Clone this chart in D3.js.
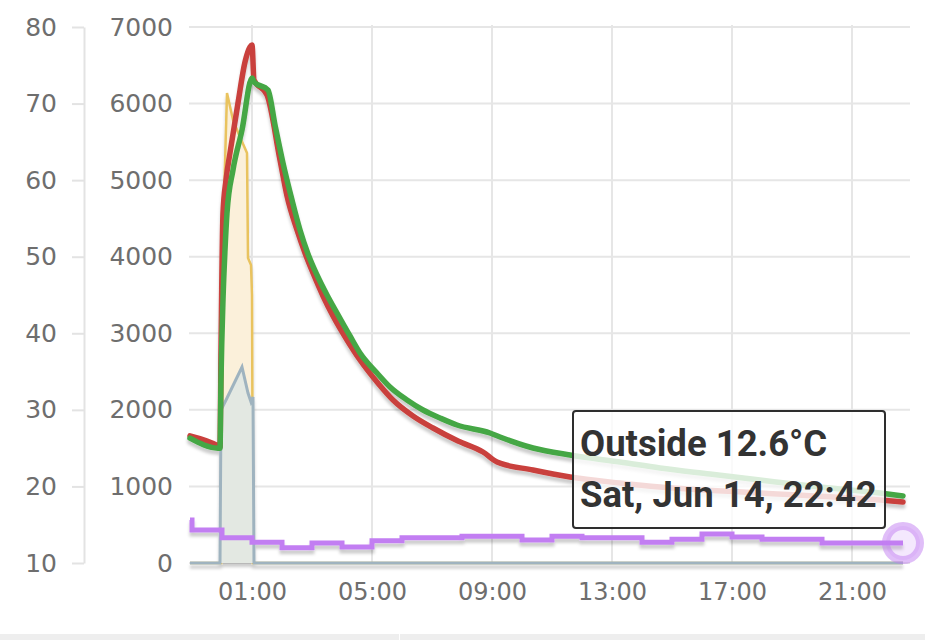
<!DOCTYPE html>
<html><head><meta charset="utf-8">
<script src="https://cdn.jsdelivr.net/npm/d3@7"></script>
<style>body{margin:0;background:#fff;overflow:hidden}</style>
</head><body><svg id="c" width="925" height="640"></svg>
<script>
// ---------- data ----------
const tempTicks = [10,20,30,40,50,60,70,80];
const valueTicks = [0,1000,2000,3000,4000,5000,6000,7000];
const xTickLabels = ["01:00","05:00","09:00","13:00","17:00","21:00"];

const redTimes = ["06-13 22:56","06-13 23:52","06-13 23:56","06-13 23:58","06-14 00:02","06-14 00:08","06-14 00:16","06-14 00:32","06-14 00:46","06-14 00:56","06-14 01:00","06-14 01:04","06-14 01:30","06-14 01:56","06-14 02:10","06-14 02:30","06-14 02:46","06-14 03:02","06-14 03:22","06-14 03:42","06-14 04:10","06-14 04:36","06-14 05:10","06-14 05:42","06-14 06:22","06-14 07:02","06-14 07:52","06-14 08:42","06-14 09:10","06-14 10:22","06-14 11:36","06-14 13:16","06-14 14:36","06-14 17:56","06-14 21:56","06-14 22:42"];
const redValues = [1660,1530,1515,2782,4571,5002,5355,6008,6543,6739,6765,6308,6112,5263,4793,4349,4049,3787,3487,3226,2912,2651,2364,2129,1920,1763,1593,1450,1319,1215,1123,1045,993,914,823,797];

const greenTimes = ["06-13 22:56","06-13 23:52","06-13 23:56","06-13 23:58","06-14 00:02","06-14 00:06","06-14 00:10","06-14 00:22","06-14 00:40","06-14 01:00","06-14 01:04","06-14 01:32","06-14 01:46","06-14 02:02","06-14 02:20","06-14 02:36","06-14 02:52","06-14 03:10","06-14 03:30","06-14 03:50","06-14 04:16","06-14 04:36","06-14 05:10","06-14 05:36","06-14 06:10","06-14 06:42","06-14 07:16","06-14 07:50","06-14 08:56","06-14 09:16","06-14 10:22","06-14 11:36","06-14 13:16","06-14 14:36","06-14 16:16","06-14 17:56","06-14 19:56","06-14 21:56","06-14 22:42"];
const greenValues = [1630,1500,1500,2390,3435,4088,4571,5133,5655,6334,6282,6177,5720,5224,4741,4349,4036,3761,3500,3265,2965,2743,2481,2299,2129,1998,1894,1802,1698,1646,1502,1410,1319,1241,1162,1084,993,914,875];

const yellowTimes = ["06-13 22:56","06-13 23:58","06-14 00:00","06-14 00:04","06-14 00:10","06-14 00:22","06-14 00:36","06-14 00:50","06-14 00:52","06-14 00:58","06-14 01:00","06-14 01:02","06-14 22:42"];
const yellowValues = [0,0,2129,4741,6138,5786,5564,5355,3983,3892,3500,0,0];

const blueTimes = ["06-13 22:56","06-13 23:56","06-13 23:58","06-14 00:10","06-14 00:40","06-14 00:52","06-14 00:58","06-14 01:02","06-14 01:04","06-14 22:42"];
const blueValues = [0,0,1998,2155,2560,2220,2103,2168,0,0];

const outsideTimes = ["06-13 22:56","06-13 23:00","06-14 00:00","06-14 01:00","06-14 02:00","06-14 03:00","06-14 04:00","06-14 05:00","06-14 06:00","06-14 08:00","06-14 10:00","06-14 11:00","06-14 12:00","06-14 14:00","06-14 15:00","06-14 16:00","06-14 17:00","06-14 18:00","06-14 20:00","06-14 22:42"];
const outsideValues = [15.6,14.3,13.3,12.7,12.0,12.6,12.1,12.9,13.3,13.5,13.0,13.5,13.3,12.7,13.1,13.8,13.4,13.1,12.6,12.6];

const tooltipLines = ["Outside 12.6°C","Sat, Jun 14, 22:42"];

// ---------- setup ----------
const parse = d3.timeParse("%Y-%m-%d %H:%M");
const P = s => parse("2025-" + s);
const zip = (t, v) => t.map((d, i) => ({t: P(d), v: v[i]}));

const svg = d3.select("#c");
const x = d3.scaleTime().domain([P("06-13 22:56"), P("06-14 22:56")]).range([190, 910]);
const yT = d3.scaleLinear().domain([10, 80]).range([563, 27]);
const yV = d3.scaleLinear().domain([0, 7000]).range([563, 27]);

const defs = svg.append("defs");
const f = defs.append("filter").attr("id","sh").attr("filterUnits","userSpaceOnUse")
  .attr("x",0).attr("y",0).attr("width",925).attr("height",640);
f.append("feDropShadow").attr("dx",0).attr("dy",4).attr("stdDeviation",1.6)
  .attr("flood-color","#000").attr("flood-opacity",0.2);

const font = "'DejaVu Sans', sans-serif";

// bottom page bar
svg.append("rect").attr("x",0).attr("y",634).attr("width",925).attr("height",6).attr("fill","#eeeeee");
svg.append("line").attr("x1",399.5).attr("x2",399.5).attr("y1",634).attr("y2",640).attr("stroke","#fff");

// gridlines
const grid = svg.append("g");
grid.selectAll("line.h").data(valueTicks).join("line")
  .attr("x1",189).attr("x2",910).attr("y1",d=>yV(d)).attr("y2",d=>yV(d))
  .attr("stroke","#e6e6e6").attr("stroke-width",2);
const xTickDates = xTickLabels.map(s => P("06-14 " + s));
grid.selectAll("line.v").data(xTickDates).join("line")
  .attr("x1",d=>x(d)).attr("x2",d=>x(d)).attr("y1",25).attr("y2",563)
  .attr("stroke","#e6e6e6").attr("stroke-width",2);

// left temperature axis
const gT = svg.append("g").attr("transform","translate(84,0)")
  .call(d3.axisLeft(yT).tickValues(tempTicks).tickSize(12).tickSizeOuter(0).tickPadding(15));
gT.select(".domain").attr("stroke","#e3e3e3").attr("stroke-width",2);
gT.selectAll(".tick line").attr("stroke","#e3e3e3").attr("stroke-width",2);
gT.selectAll("text").attr("font-family",font).attr("font-size",25).attr("fill","#6e6e6e");

// second value axis
const gV = svg.append("g").attr("transform","translate(190,0)")
  .call(d3.axisLeft(yV).tickValues(valueTicks).tickFormat(d3.format("d")).tickSize(0).tickPadding(17));
gV.select(".domain").remove();
gV.selectAll("text").attr("font-family",font).attr("font-size",25).attr("fill","#6e6e6e");

// x axis
const gX = svg.append("g").attr("transform","translate(0,563)")
  .call(d3.axisBottom(x).tickValues(xTickDates).tickFormat(d3.timeFormat("%H:%M")).tickSize(0).tickPadding(20));
gX.select(".domain").remove();
gX.selectAll("text").attr("font-family",font).attr("font-size",24).attr("fill","#6e6e6e");

// series
const layer = svg.append("g").attr("filter","url(#sh)");
const area = d3.area().x(d=>x(d.t)).y0(yV(0)).y1(d=>yV(d.v));
const lineV = d3.line().x(d=>x(d.t)).y(d=>yV(d.v));

const yellow = zip(yellowTimes, yellowValues);
layer.append("path").datum(yellow).attr("d",area).attr("fill","#fbf0da");
layer.append("path").datum(yellow).attr("d",lineV).attr("fill","none").attr("stroke","#e9c35e").attr("stroke-width",2.5);

const blue = zip(blueTimes, blueValues);
layer.append("path").datum(blue).attr("d",area).attr("fill","#e3e8e2");
layer.append("path").datum(blue).attr("d",lineV).attr("fill","none").attr("stroke","#9fb3bf").attr("stroke-width",3);

const lineM = d3.line().x(d=>x(d.t)).y(d=>yV(d.v)).curve(d3.curveMonotoneX);
layer.append("path").datum(zip(redTimes, redValues)).attr("d",lineM).attr("fill","none")
  .attr("stroke","#c9413d").attr("stroke-width",5.5).attr("stroke-linejoin","round").attr("stroke-linecap","round");
layer.append("path").datum(zip(greenTimes, greenValues)).attr("d",lineM).attr("fill","none")
  .attr("stroke","#45a745").attr("stroke-width",5.5).attr("stroke-linejoin","round").attr("stroke-linecap","round");

const outside = zip(outsideTimes, outsideValues);
const lineT = d3.line().x(d=>x(d.t)).y(d=>yT(d.v)).curve(d3.curveStepAfter);
layer.append("path").datum(outside).attr("d",lineT).attr("fill","none")
  .attr("stroke","#c27ef2").attr("stroke-width",5);

// tooltip
const last = outside[outside.length-1];
const tip = svg.append("g");
tip.append("rect").attr("x",573).attr("y",411).attr("width",312).attr("height",117).attr("rx",3)
  .attr("fill","#fff").attr("fill-opacity",0.8).attr("stroke","#2e2e2e").attr("stroke-width",2);
tip.selectAll("text").data(tooltipLines).join("text")
  .attr("x",580).attr("y",(d,i)=>456 + i*51)
  .attr("font-family","Roboto, sans-serif").attr("font-weight","bold").attr("font-size",36.5)
  .attr("fill","#333").text(d=>d);

// hover marker
svg.append("circle").attr("cx",x(last.t)).attr("cy",yT(last.v)).attr("r",17)
  .attr("fill","#c27ef2").attr("fill-opacity",0.18)
  .attr("stroke","#c27ef2").attr("stroke-opacity",0.5).attr("stroke-width",8);
</script></body></html>
